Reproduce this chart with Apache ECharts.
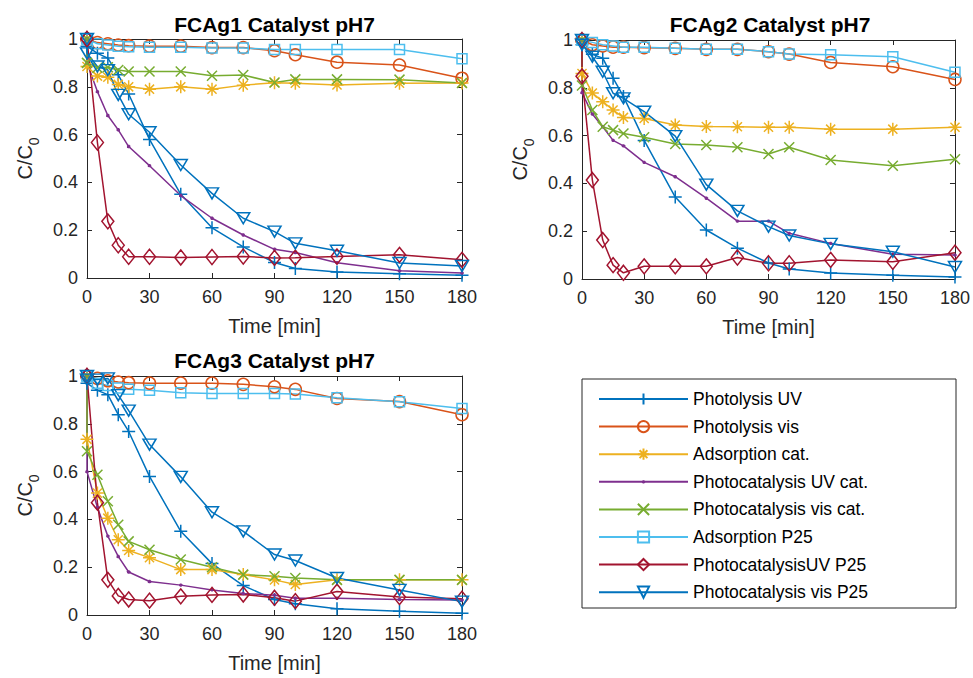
<!DOCTYPE html>
<html>
<head>
<meta charset="utf-8">
<script src="https://cdn.jsdelivr.net/npm/echarts@6/dist/echarts.min.js"></script>
<style>
  html, body { margin: 0; padding: 0; background: #fff; }
  #chart { width: 973px; height: 678px; }
</style>
</head>
<body>
<div id="chart"></div>
<script>
// time points (first two are both t=0: start and after dark phase)
const time = [0, 0, 5, 10, 15, 20, 30, 45, 60, 75, 90, 100, 120, 150, 180];

const seriesNames = [
  'Photolysis UV', 'Photolysis vis', 'Adsorption cat.', 'Photocatalysis UV cat.',
  'Photocatalysis vis cat.', 'Adsorption P25', 'PhotocatalysisUV P25', 'Photocatalysis vis P25'
];

const panelTitles = ['FCAg1 Catalyst pH7', 'FCAg2 Catalyst pH7', 'FCAg3 Catalyst pH7'];
const xTicks = [0, 30, 60, 90, 120, 150, 180];
const yTicks = [0, 0.2, 0.4, 0.6, 0.8, 1];

// C/C0 values, one row per series (same order as seriesNames)
const fcag1 = [
  [1, 0.97, 0.94, 0.92, 0.85, 0.77, 0.58, 0.35, 0.21, 0.13, 0.065, 0.04, 0.025, 0.018, 0.012],
  [1, 1, 0.985, 0.98, 0.975, 0.972, 0.97, 0.97, 0.964, 0.964, 0.951, 0.934, 0.903, 0.891, 0.836],
  [1, 0.885, 0.845, 0.84, 0.81, 0.80, 0.79, 0.80, 0.79, 0.807, 0.817, 0.815, 0.808, 0.815, 0.816],
  [1, 0.9, 0.78, 0.68, 0.62, 0.55, 0.47, 0.345, 0.25, 0.18, 0.12, 0.107, 0.064, 0.03, 0.021],
  [1, 0.9, 0.88, 0.882, 0.87, 0.864, 0.864, 0.864, 0.846, 0.849, 0.818, 0.831, 0.831, 0.83, 0.816],
  [1, 1, 0.98, 0.975, 0.97, 0.968, 0.966, 0.965, 0.962, 0.962, 0.956, 0.956, 0.956, 0.956, 0.917],
  [1, 1, 0.567, 0.237, 0.137, 0.089, 0.089, 0.086, 0.088, 0.09, 0.084, 0.085, 0.09, 0.097, 0.076],
  [1, 0.94, 0.885, 0.87, 0.766, 0.685, 0.61, 0.473, 0.354, 0.25, 0.194, 0.145, 0.114, 0.063, 0.05]
];
const fcag2 = [
  [1, 0.98, 0.94, 0.924, 0.84, 0.764, 0.58, 0.343, 0.205, 0.129, 0.067, 0.042, 0.025, 0.016, 0.008],
  [1, 1, 0.98, 0.975, 0.97, 0.97, 0.968, 0.965, 0.961, 0.961, 0.951, 0.941, 0.906, 0.888, 0.835],
  [1, 0.86, 0.778, 0.742, 0.707, 0.676, 0.672, 0.644, 0.638, 0.637, 0.635, 0.635, 0.627, 0.627, 0.635],
  [1, 0.78, 0.69, 0.637, 0.58, 0.557, 0.488, 0.428, 0.338, 0.242, 0.242, 0.191, 0.149, 0.104, 0.1],
  [1, 0.81, 0.707, 0.637, 0.623, 0.609, 0.593, 0.565, 0.561, 0.551, 0.523, 0.551, 0.498, 0.474, 0.501],
  [1, 1, 0.99, 0.98, 0.975, 0.97, 0.97, 0.965, 0.961, 0.961, 0.951, 0.941, 0.938, 0.93, 0.865],
  [1, 0.848, 0.414, 0.163, 0.058, 0.026, 0.053, 0.053, 0.053, 0.09, 0.066, 0.066, 0.08, 0.072, 0.11],
  [1, 0.98, 0.93, 0.867, 0.777, 0.756, 0.70, 0.598, 0.395, 0.285, 0.219, 0.182, 0.147, 0.114, 0.05]
];
const fcag3 = [
  [1, 0.97, 0.94, 0.922, 0.838, 0.768, 0.58, 0.35, 0.215, 0.123, 0.065, 0.047, 0.026, 0.016, 0.007],
  [1, 1, 0.99, 0.98, 0.975, 0.972, 0.97, 0.97, 0.97, 0.965, 0.955, 0.944, 0.906, 0.893, 0.838],
  [1, 0.735, 0.51, 0.405, 0.315, 0.27, 0.24, 0.19, 0.19, 0.169, 0.147, 0.128, 0.147, 0.147, 0.147],
  [1, 0.6, 0.45, 0.33, 0.245, 0.18, 0.14, 0.125, 0.105, 0.09, 0.083, 0.07, 0.07, 0.065, 0.063],
  [1, 0.685, 0.587, 0.476, 0.378, 0.308, 0.273, 0.232, 0.2, 0.169, 0.162, 0.155, 0.147, 0.147, 0.147],
  [1, 1, 0.97, 0.96, 0.95, 0.945, 0.94, 0.93, 0.927, 0.927, 0.927, 0.925, 0.909, 0.892, 0.864],
  [1, 1, 0.47, 0.147, 0.08, 0.065, 0.06, 0.078, 0.084, 0.086, 0.072, 0.058, 0.098, 0.075, 0.068],
  [1, 0.985, 0.985, 0.99, 0.92, 0.855, 0.713, 0.578, 0.43, 0.35, 0.253, 0.228, 0.155, 0.105, 0.056]
];
const panels = [fcag1, fcag2, fcag3];

// matlab default colours + markers
const seriesColors = ['#0072BD', '#D95319', '#EDB120', '#7E2F8E', '#77AC30', '#4DBEEE', '#A2142F', '#0072BD'];
const PLUS = 'path://M0,-1L0,1M-1,0L1,0';
const STAR = 'path://M0,-1L0,1M-1,0L1,0M-0.7,-0.7L0.7,0.7M-0.7,0.7L0.7,-0.7';
const CROSS = 'path://M-1,-1L1,1M-1,1L1,-1';
// small dot inside a bigger empty frame, so the legend icon stays small too
const DOT = 'path://M-6,-6M6,6M-1.7,-0.7L-0.7,-1.7L0.7,-1.7L1.7,-0.7L1.7,0.7L0.7,1.7L-0.7,1.7L-1.7,0.7Z';
const seriesSymbols = [PLUS, 'circle', STAR, DOT, CROSS, 'rect', 'diamond', 'triangle'];
const seriesSizes = [13, 12, 13, 12, 10, 10, [12, 15], [13, 11]];

const FONT = '"Liberation Sans", Arial, Helvetica, sans-serif';
const AXIS_COLOR = '#262626';

const grids = [
  { left: 87, top: 39, width: 375, height: 239 },
  { left: 582, top: 40, width: 376, height: 239 },
  { left: 87, top: 376, width: 375, height: 239 }
];

function makeAxis(dim, gridIndex, mirror) {
  const isX = dim === 'x';
  const ticks = isX ? xTicks : yTicks;
  return {
    type: 'value',
    gridIndex: gridIndex,
    position: isX ? (mirror ? 'top' : 'bottom') : (mirror ? 'right' : 'left'),
    min: ticks[0],
    max: ticks[ticks.length - 1],
    interval: ticks[1] - ticks[0],
    name: mirror ? '' : (isX ? 'Time [min]' : '{a|C/C}{b|0}'),
    nameLocation: 'middle',
    nameGap: isX ? 38 : 46,
    nameTextStyle: {
      fontSize: 20, color: AXIS_COLOR, fontFamily: FONT,
      rich: {
        a: { fontSize: 20, color: AXIS_COLOR, fontFamily: FONT, lineHeight: 22 },
        b: { fontSize: 14, color: AXIS_COLOR, fontFamily: FONT, lineHeight: 32, verticalAlign: 'bottom' }
      }
    },
    axisLine: { show: true, onZero: false, lineStyle: { color: AXIS_COLOR, width: 1 } },
    axisTick: { show: true, inside: true, length: 5, lineStyle: { color: AXIS_COLOR } },
    axisLabel: {
      show: !mirror,
      margin: isX ? 10 : 9,
      fontSize: 18,
      color: AXIS_COLOR,
      fontFamily: FONT
    },
    splitLine: { show: false }
  };
}

const xAxes = [], yAxes = [], series = [];
grids.forEach(function (g, i) {
  xAxes.push(makeAxis('x', i, false), makeAxis('x', i, true));
  yAxes.push(makeAxis('y', i, false), makeAxis('y', i, true));
  panels[i].forEach(function (vals, s) {
    const c = seriesColors[s];
    const dot = s === 3;
    series.push({
      type: 'line',
      name: seriesNames[s],
      xAxisIndex: 2 * i,
      yAxisIndex: 2 * i,
      data: time.map(function (t, k) { return [t, vals[k]]; }),
      symbol: seriesSymbols[s],
      symbolSize: seriesSizes[s],
      symbolRotate: s === 7 ? 180 : 0,
      showAllSymbol: true,
      lineStyle: { color: c, width: 1.5 },
      itemStyle: dot
        ? { color: c, borderWidth: 0 }
        : { color: 'rgba(255,255,255,0)', borderColor: c, borderWidth: 1.5 },
      emphasis: { disabled: true },
      animation: false
    });
  });
});

const option = {
  backgroundColor: '#fff',
  animation: false,
  title: panelTitles.map(function (t, i) {
    const g = grids[i];
    return {
      text: t,
      left: g.left + g.width / 2 - 5,
      top: i === 2 ? 345 : 9,
      textAlign: 'center',
      textStyle: { fontSize: 21, fontWeight: 'bold', color: '#000', fontFamily: FONT }
    };
  }),
  grid: grids,
  xAxis: xAxes,
  yAxis: yAxes,
  legend: {
    orient: 'vertical',
    left: 593,
    top: 385,
    itemWidth: 89,
    itemHeight: 14,
    itemGap: 9.6,
    textStyle: { fontSize: 17.5, color: '#000', fontFamily: FONT },
    data: seriesNames
  },
  graphic: [{
    type: 'rect',
    shape: { x: 582, y: 379, width: 374, height: 229 },
    style: { fill: 'none', stroke: AXIS_COLOR, lineWidth: 1 },
    z: -10
  }],
  series: series
};

const myChart = echarts.init(document.getElementById('chart'), null, { renderer: 'svg' });
myChart.setOption(option);
</script>
</body>
</html>
